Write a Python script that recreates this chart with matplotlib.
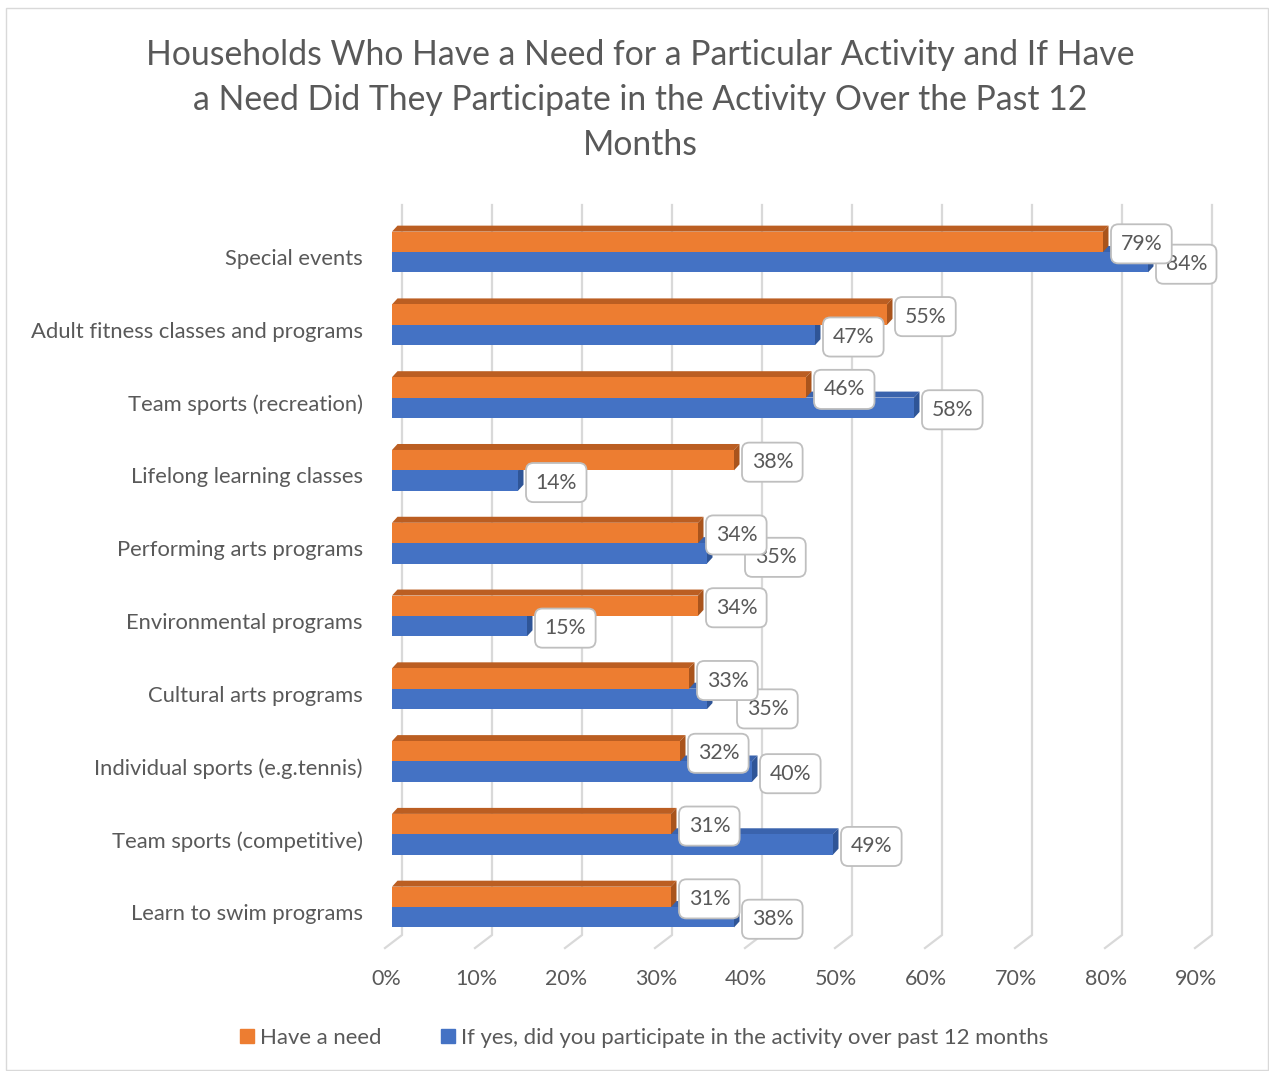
import matplotlib.pyplot as plt
from matplotlib.patches import Polygon, Rectangle, Patch

plt.rcParams['font.family'] = ['Lato', 'DejaVu Sans']

categories = [
    "Special events",
    "Adult fitness classes and programs",
    "Team sports (recreation)",
    "Lifelong learning classes",
    "Performing arts programs",
    "Environmental programs",
    "Cultural arts programs",
    "Individual sports (e.g.tennis)",
    "Team sports (competitive)",
    "Learn to swim programs",
]
have_need = [79, 55, 46, 38, 34, 34, 33, 32, 31, 31]
participated = [84, 47, 58, 14, 35, 15, 35, 40, 49, 38]
x_ticks = [0, 10, 20, 30, 40, 50, 60, 70, 80, 90]

series_names = ["Have a need",
                "If yes, did you participate in the activity over past 12 months"]
title = ("Households Who Have a Need for a Particular Activity and If Have\n"
         "a Need Did They Participate in the Activity Over the Past 12\n"
         "Months")

ORANGE, ORANGE_TOP, ORANGE_SIDE = "#ED7D31", "#BB5E22", "#A9541C"
BLUE, BLUE_TOP, BLUE_SIDE = "#4472C4", "#3A63AD", "#2F5597"
GREY_TXT = "#595959"
GRID = "#D9D9D9"

W, H = 1269, 1071
PX = 72 / 100  # points per pixel at dpi 100

fig = plt.figure(figsize=(W / 100, H / 100), dpi=100)
# plot area: 0% at x=392px, 9 px per percent; category pitch 72.78 px
ax = fig.add_axes([392 / W, 1 - 950 / H, 810 / W, 745 / H])
ax.set_xlim(0, 90)
ax.set_ylim(9.59, -0.646)
ax.axis('off')

pitch = 72.78
dx = 5.5 / 9       # depth offset in x (percent)
dy = 6 / pitch     # depth offset in y (category units)
bh = 0.28          # front face height of one bar

# walls: vertical grid lines on the back plane, bending forward on the floor
back_x = 10 / 9
floor_back = (935 - 252) / pitch
floor_front = (948 - 252) / pitch
for k in x_ticks:
    ax.plot([k + back_x, k + back_x, k - 0.78],
            [-0.646, floor_back, floor_front],
            color=GRID, lw=1.6, zorder=0, clip_on=False,
            solid_joinstyle='miter')
    ax.text(k - 0.67, (979 - 252) / pitch, f"{k}%", ha='center', va='center',
            fontsize=15.5, color=GREY_TXT, clip_on=False)

for i, (v_o, v_b) in enumerate(zip(have_need, participated)):
    c = i
    # blue top face and side (partly hidden by the orange bar)
    ax.add_patch(Polygon([(0, c), (v_b, c), (v_b + dx, c - dy), (dx, c - dy)],
                         closed=True, fc=BLUE_TOP, ec='none', zorder=2))
    ax.add_patch(Polygon([(v_b, c), (v_b, c + bh), (v_b + dx, c + bh - dy),
                          (v_b + dx, c - dy)],
                         closed=True, fc=BLUE_SIDE, ec='none', zorder=2))
    # orange top face and side
    ax.add_patch(Polygon([(0, c - bh), (v_o, c - bh), (v_o + dx, c - bh - dy),
                          (dx, c - bh - dy)],
                         closed=True, fc=ORANGE_TOP, ec='none', zorder=3))
    ax.add_patch(Polygon([(v_o, c - bh), (v_o, c), (v_o + dx, c - dy),
                          (v_o + dx, c - bh - dy)],
                         closed=True, fc=ORANGE_SIDE, ec='none', zorder=3))

ys = list(range(len(categories)))
ax.barh([y - bh for y in ys], have_need, height=bh, align='edge',
        color=ORANGE, zorder=4)
ax.barh(ys, participated, height=bh, align='edge', color=BLUE, zorder=4)

# category labels
for i, name in enumerate(categories):
    ax.annotate(name, xy=(0, i), xytext=(-29 * PX, -7 * PX),
                textcoords='offset points', ha='right', va='center',
                fontsize=15.85, color=GREY_TXT, annotation_clip=False)

# data labels; a few blue ones were nudged clear of the orange ones
nudge_blue = {4: (30, 2), 6: (22, 8)}
box = dict(boxstyle='round,pad=0.45,rounding_size=0.35', fc='white',
           ec='#BFBFBF', lw=1.3)
label_pad = 8 + 0.45 * 15.3 / PX
for i, (v_o, v_b) in enumerate(zip(have_need, participated)):
    ax.annotate(f"{v_o}%", xy=(v_o, i - bh / 2),
                xytext=(label_pad * PX, -2 * PX), textcoords='offset points',
                ha='left', va='center', fontsize=15.3, color=GREY_TXT,
                bbox=box, zorder=7, annotation_clip=False)
    ndx, ndy = nudge_blue.get(i, (0, 0))
    ax.annotate(f"{v_b}%", xy=(v_b, i + bh / 2),
                xytext=((label_pad + ndx) * PX, (-2 - ndy) * PX),
                textcoords='offset points', ha='left', va='center',
                fontsize=15.3, color=GREY_TXT, bbox=box, zorder=6,
                annotation_clip=False)

fig.text(640 / W, 1 - 100 / H, title, ha='center', va='center', fontsize=24.3,
         color=GREY_TXT, linespacing=1.5)

handles = [Patch(color=ORANGE, label=series_names[0]),
           Patch(color=BLUE, label=series_names[1])]
fig.legend(handles=handles, loc='center', bbox_to_anchor=(644 / W, 1 - 1038 / H),
           ncol=2, frameon=False, fontsize=15.9, handlelength=0.63,
           handleheight=0.63, handletextpad=0.27, columnspacing=2.7,
           labelcolor=GREY_TXT)

fig.patches.append(Rectangle((6 / W, 1 - 1070 / H), 1262 / W, 1062 / H,
                             transform=fig.transFigure, fill=False,
                             ec=GRID, lw=1.0))

fig.savefig("out.png", dpi=100)
